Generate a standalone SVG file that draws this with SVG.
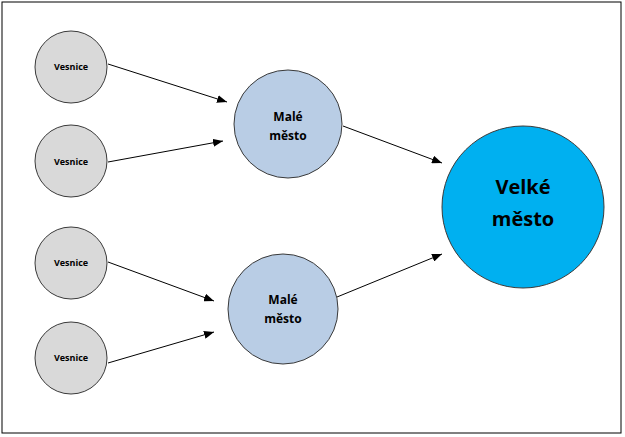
<svg xmlns="http://www.w3.org/2000/svg" width="625" height="437" viewBox="0 0 625 437">
<style>
.v{fill:#D9D9D9;stroke:#3a3a3a;stroke-width:1}
.m{fill:#B9CDE5;stroke:#3a3a3a;stroke-width:1}
.b{fill:#00B0F0;stroke:#3a3a3a;stroke-width:1}
text{font-family:"Open Sans","Liberation Sans",sans-serif;font-weight:bold;fill:#000;text-anchor:middle}
.tv{font-size:9px}
.tm{font-size:12px}
.tb{font-size:20px}
.c{stroke:#000;stroke-width:1;fill:none;marker-end:url(#ah)}
</style>
<defs>
<marker id="ah" markerUnits="userSpaceOnUse" markerWidth="11" markerHeight="8" refX="10" refY="4" orient="auto">
<path d="M0,0 L10,4 L0,8 Z" fill="#000"/>
</marker>
</defs>
<rect x="2" y="2" width="619" height="431" fill="#fff" stroke="#000" stroke-width="1"/>
<g id="connectors">
<line class="c" x1="108" y1="64" x2="227" y2="102"/>
<line class="c" x1="108" y1="162" x2="223" y2="141"/>
<line class="c" x1="108" y1="262" x2="214" y2="301"/>
<line class="c" x1="108" y1="363" x2="214" y2="332"/>
<line class="c" x1="343" y1="126" x2="442" y2="163"/>
<line class="c" x1="337" y1="297" x2="442" y2="254"/>
</g>
<g id="vesnice1"><circle class="v" cx="71" cy="67" r="36"/><text class="tv" x="71" y="70">Vesnice</text></g>
<g id="vesnice2"><circle class="v" cx="71" cy="161" r="36"/><text class="tv" x="71" y="165">Vesnice</text></g>
<g id="vesnice3"><circle class="v" cx="71" cy="263" r="36"/><text class="tv" x="71" y="266">Vesnice</text></g>
<g id="vesnice4"><circle class="v" cx="71" cy="358" r="36"/><text class="tv" x="71" y="361">Vesnice</text></g>
<g id="male1"><circle class="m" cx="288" cy="124" r="54"/><text class="tm" x="288" y="121">Malé</text><text class="tm" x="288" y="140">město</text></g>
<g id="male2"><circle class="m" cx="283" cy="309" r="55"/><text class="tm" x="283" y="304">Malé</text><text class="tm" x="283" y="323">město</text></g>
<g id="velke"><circle class="b" cx="523" cy="207" r="81"/><text class="tb" x="523" y="194">Velké</text><text class="tb" x="523" y="226">město</text></g>
</svg>
